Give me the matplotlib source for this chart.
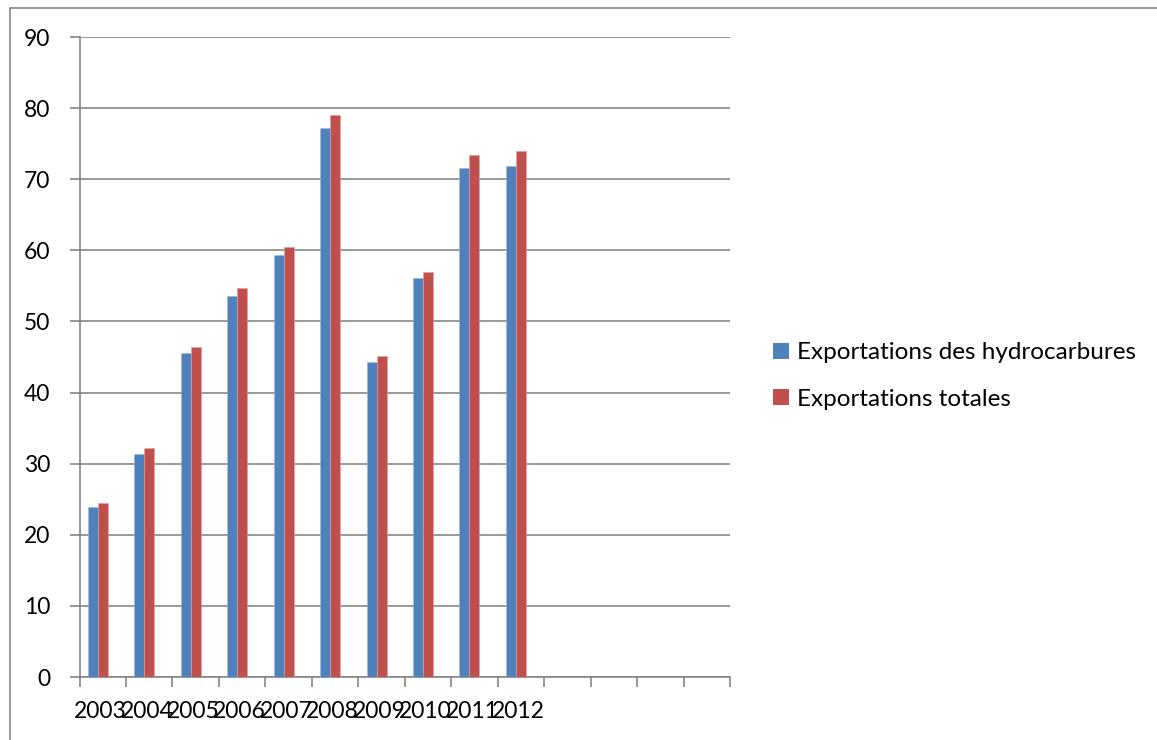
import matplotlib.pyplot as plt
from matplotlib.patches import Patch, Rectangle

# exports per year (values read in billions of dollars)
years = ['2003', '2004', '2005', '2006', '2007', '2008', '2009', '2010', '2011', '2012']
hydrocarbures = [23.9, 31.4, 45.5, 53.6, 59.3, 77.2, 44.3, 56.1, 71.6, 71.8]
totales = [24.5, 32.2, 46.4, 54.7, 60.4, 79.1, 45.1, 57.0, 73.4, 74.0]
n_slots = 14  # category axis is longer than the data

blue = '#4F81BD'
red = '#C0504D'
grey = '#868686'

plt.rcParams['font.family'] = ['Lato', 'DejaVu Sans']
plt.rcParams['font.size'] = 16.5

fig = plt.figure(figsize=(11.57, 7.40), dpi=100)
W, H = 1157, 740

# outer chart frame
fig.patches.append(Rectangle((10 / W, -0.1), 1.2, 1.1 - 8 / H, transform=fig.transFigure,
                             fill=False, edgecolor=grey, lw=1.2))

ax = fig.add_axes([79.5 / W, 1 - 677 / H, (730 - 79.5) / W, (677 - 37) / H])

bw = 0.215
x = list(range(len(years)))
ax.bar([i - bw for i in x], hydrocarbures, width=bw, align='center', color=blue,
       edgecolor='#9db7db', linewidth=0.4, zorder=3)
ax.bar([i for i in x], totales, width=bw, align='center', color=red,
       edgecolor='#e0a09e', linewidth=0.4, zorder=3)

ax.set_xlim(-0.5, n_slots - 0.5)
ax.set_ylim(0, 90)
ax.set_yticks(range(0, 91, 10))
ax.yaxis.grid(True, color=grey, lw=1.2)
ax.set_axisbelow(True)

ax.set_xticks([i - 0.5 for i in range(n_slots + 1)])
ax.set_xticklabels([])
ax.set_xticks([i - 0.05 for i in x], minor=True)
ax.set_xticklabels(years, minor=True)
ax.tick_params(axis='x', which='major', length=7, width=1.2, color=grey)
ax.tick_params(axis='x', which='minor', length=0, pad=17)
ax.tick_params(axis='y', length=7, width=1.2, color=grey, pad=14)

for s in ['top', 'right']:
    ax.spines[s].set_visible(False)
for s in ['left', 'bottom']:
    ax.spines[s].set_color(grey)
    ax.spines[s].set_linewidth(1.2)

handles = [Patch(facecolor=blue), Patch(facecolor=red)]
fig.legend(handles, ['Exportations des hydrocarbures', 'Exportations totales'],
           loc='center left', bbox_to_anchor=(773 / W, 1 - 376 / H), frameon=False,
           borderpad=0, borderaxespad=0, handlelength=0.65, handleheight=0.65,
           handletextpad=0.33, labelspacing=1.03, fontsize=17.5)

fig.savefig('out.png', dpi=100)
